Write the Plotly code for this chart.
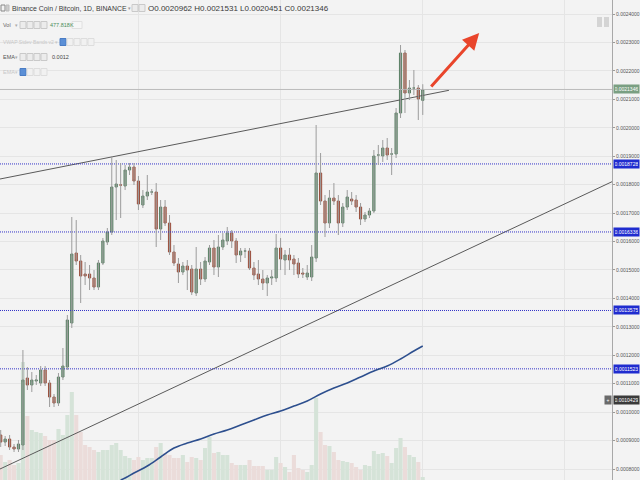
import plotly.graph_objects as go

# ---------------- data ----------------
day_index = list(range(96))

opens = [0.0009196, 0.0008950, 0.0009056, 0.0008775, 0.0008704, 0.0008845, 0.0011201, 0.0010955, 0.0011095, 0.0011025,
         0.0011482, 0.0011025, 0.0010533, 0.0010322, 0.0011236, 0.0011587, 0.0013135, 0.0015596, 0.0015315, 0.0014858,
         0.0014858, 0.0014717, 0.0014400, 0.0015244, 0.0015983, 0.0016334, 0.0017917, 0.0017987, 0.0017952, 0.0018514,
         0.0018620, 0.0018128, 0.0017284, 0.0017600, 0.0017741, 0.0017741, 0.0016440, 0.0017213, 0.0016651, 0.0015631,
         0.0015209, 0.0014928, 0.0015139, 0.0015033, 0.0014190, 0.0015033, 0.0014682, 0.0015280, 0.0015772, 0.0015104,
         0.0015807, 0.0016018, 0.0016299, 0.0016018, 0.0015526, 0.0015666, 0.0015666, 0.0015069, 0.0014858, 0.0014682,
         0.0014541, 0.0014717, 0.0014717, 0.0015772, 0.0015350, 0.0015526, 0.0015385, 0.0015244, 0.0014893, 0.0014752,
         0.0014752, 0.0015420, 0.0018409, 0.0017424, 0.0016651, 0.0017530, 0.0017424, 0.0016651, 0.0017213, 0.0017495,
         0.0017460, 0.0017213, 0.0016791, 0.0016932, 0.0017073, 0.0019042, 0.0019007, 0.0019288, 0.0019077, 0.0019077,
         0.0020519, 0.0022628, 0.0021222, 0.0021398, 0.0021398, 0.0020962]

highs = [0.0009372, 0.0009161, 0.0009196, 0.0008880, 0.0009021, 0.0012185, 0.0011587, 0.0011412, 0.0011306, 0.0011623,
         0.0011623, 0.0011130, 0.0010638, 0.0011376, 0.0012256, 0.0013416, 0.0016862, 0.0016756, 0.0015526, 0.0015280,
         0.0015174, 0.0014998, 0.0015350, 0.0016123, 0.0016475, 0.0019007, 0.0018866, 0.0018761, 0.0018690, 0.0018761,
         0.0018761, 0.0018303, 0.0017811, 0.0018339, 0.0017846, 0.0018057, 0.0017460, 0.0017460, 0.0016932, 0.0015877,
         0.0015420, 0.0015280, 0.0015350, 0.0015174, 0.0015807, 0.0015280, 0.0015455, 0.0015877, 0.0016053, 0.0016229,
         0.0016299, 0.0016510, 0.0016405, 0.0016123, 0.0015772, 0.0015772, 0.0015772, 0.0015280, 0.0015350, 0.0014998,
         0.0014822, 0.0014998, 0.0016264, 0.0016123, 0.0015701, 0.0015772, 0.0015526, 0.0015420, 0.0015069, 0.0015174,
         0.0015877, 0.0020097, 0.0019112, 0.0017635, 0.0017811, 0.0018057, 0.0017635, 0.0017354, 0.0017811, 0.0017741,
         0.0017635, 0.0017354, 0.0017038, 0.0017178, 0.0019218, 0.0019393, 0.0019569, 0.0019640, 0.0019288, 0.0020694,
         0.0022910, 0.0022734, 0.0021679, 0.0022031, 0.0021503, 0.0021531]

lows = [0.0008775, 0.0008810, 0.0008669, 0.0008599, 0.0008599, 0.0008669, 0.0010779, 0.0010708, 0.0010955, 0.0010919,
        0.0010919, 0.0010181, 0.0010181, 0.0010216, 0.0011130, 0.0011482, 0.0012959, 0.0015174, 0.0013838, 0.0014471,
        0.0014295, 0.0014295, 0.0014295, 0.0015174, 0.0015877, 0.0016229, 0.0016756, 0.0016827, 0.0017811, 0.0018339,
        0.0017987, 0.0017108, 0.0017178, 0.0017460, 0.0017635, 0.0015807, 0.0016053, 0.0016545, 0.0015526, 0.0015139,
        0.0014541, 0.0014822, 0.0014295, 0.0014119, 0.0014084, 0.0014471, 0.0014576, 0.0015174, 0.0014822, 0.0014752,
        0.0015701, 0.0015877, 0.0015772, 0.0015244, 0.0015280, 0.0015420, 0.0014998, 0.0014647, 0.0014471, 0.0014295,
        0.0014084, 0.0014471, 0.0014576, 0.0014998, 0.0014822, 0.0014998, 0.0014822, 0.0014717, 0.0014717, 0.0014647,
        0.0014611, 0.0015280, 0.0017284, 0.0016159, 0.0016475, 0.0017284, 0.0016229, 0.0016510, 0.0017108, 0.0017284,
        0.0017038, 0.0016580, 0.0016686, 0.0016827, 0.0017002, 0.0018690, 0.0018796, 0.0018866, 0.0018339, 0.0018936,
        0.0020343, 0.0020519, 0.0020976, 0.0021152, 0.0020273, 0.0020451]

closes = [0.0008950, 0.0009056, 0.0008775, 0.0008704, 0.0008880, 0.0011130, 0.0010955, 0.0011130, 0.0011130, 0.0011482,
          0.0011025, 0.0010533, 0.0010322, 0.0011236, 0.0011623, 0.0013240, 0.0015561, 0.0015315, 0.0014787, 0.0014787,
          0.0014717, 0.0014400, 0.0015244, 0.0016018, 0.0016334, 0.0017917, 0.0018022, 0.0017987, 0.0018514, 0.0018620,
          0.0018128, 0.0017319, 0.0017600, 0.0017741, 0.0017741, 0.0016440, 0.0017213, 0.0016651, 0.0015631, 0.0015244,
          0.0014928, 0.0015139, 0.0014998, 0.0014225, 0.0015033, 0.0014682, 0.0015315, 0.0015772, 0.0015104, 0.0015807,
          0.0016053, 0.0016299, 0.0016018, 0.0015526, 0.0015666, 0.0015666, 0.0015069, 0.0014822, 0.0014682, 0.0014541,
          0.0014717, 0.0014752, 0.0015772, 0.0015385, 0.0015526, 0.0015350, 0.0015209, 0.0014858, 0.0014858, 0.0014893,
          0.0015455, 0.0018409, 0.0017424, 0.0016651, 0.0017530, 0.0017424, 0.0016651, 0.0017213, 0.0017565, 0.0017424,
          0.0017213, 0.0016791, 0.0016932, 0.0017073, 0.0019007, 0.0019042, 0.0019288, 0.0019042, 0.0019077, 0.0020519,
          0.0022628, 0.0021222, 0.0021398, 0.0021398, 0.0021011, 0.0021346]

volumes_k = [4000, 2880, 3200, 2400, 2720, 18880, 10240, 8000, 7680, 7520,
             7040, 6400, 6400, 8160, 7200, 10400, 14080, 10400, 7680, 5600,
             5280, 4800, 4480, 4800, 4800, 5600, 5920, 4800, 3840, 3520,
             3200, 3680, 3200, 3520, 3520, 5280, 5920, 4320, 4000, 3520,
             3520, 4000, 2880, 3680, 3520, 3200, 5120, 6880, 4320, 4480,
             4000, 4000, 2720, 2400, 2400, 2400, 3200, 2240, 2240, 2240,
             1600, 1600, 3680, 2720, 2080, 1280, 4000, 1920, 1600, 1280,
             2400, 13120, 7680, 5600, 5440, 4480, 3200, 3040, 2880, 2720,
             2080, 1600, 2400, 2240, 4640, 4160, 4320, 3840, 2720, 5120,
             6720, 5280, 4000, 3680, 2880, 477.818]

ema_index = [27, 28, 30, 33, 36, 39, 42, 45, 48, 51, 54, 57, 60, 63, 66, 69, 72, 75, 78, 81, 84, 87, 90, 93, 95]
ema_values = [0.0007614, 0.0007685, 0.0007860, 0.0008106, 0.0008423, 0.0008739, 0.0008915, 0.0009056, 0.0009232,
              0.0009372, 0.0009548, 0.0009724, 0.0009900, 0.0010040, 0.0010216, 0.0010392, 0.0010638, 0.0010849,
              0.0011025, 0.0011236, 0.0011447, 0.0011623, 0.0011869, 0.0012150, 0.0012326]

levels = [0.0018728, 0.0016336, 0.0013575, 0.0011523]
last_price = 0.0021346
ema2_price = 0.0010429

upper_trend_x = [-0.16, 100.9]
upper_trend_y = [0.0018198, 0.0021317]
lower_trend_x = [-0.16, 137.6]
lower_trend_y = [0.0008001, 0.0018103]

arrow_x = [96.6, 107.7]
arrow_y = [0.0021398, 0.0023332]

x_range = [-0.16, 137.6]
price_range = [0.00076146, 0.00244923]
volume_range = [0, 76800]

# ---------------- styling ----------------
BG = '#f3f3f3'
GRID = '#e5e5e5'
UP_FILL, UP_LINE = '#7fa589', '#5a7f64'
DN_FILL, DN_LINE = '#c2735f', '#99503e'
FONT = 'Liberation Sans, Arial, sans-serif'
PLOT_W, PLOT_H = 612.0, 480.0

fig = go.Figure()

# volume (base axis, drawn behind)
vol_colors = ['#d5e3d8' if c >= o else '#ebdcda' for o, c in zip(opens, closes)]
fig.add_trace(go.Bar(x=day_index, y=volumes_k, marker=dict(color=vol_colors, line=dict(width=0)),
                     yaxis='y', hoverinfo='skip'))

# trend lines
fig.add_trace(go.Scatter(x=upper_trend_x, y=upper_trend_y, mode='lines', yaxis='y2',
                         line=dict(color='#5a5a5a', width=1)))
fig.add_trace(go.Scatter(x=lower_trend_x, y=lower_trend_y, mode='lines', yaxis='y2',
                         line=dict(color='#5a5a5a', width=1)))

# horizontal levels
for lv in levels:
    fig.add_trace(go.Scatter(x=x_range, y=[lv, lv], mode='lines', yaxis='y2',
                             line=dict(color='#3333c8', width=1, dash='1px,1px')))
fig.add_trace(go.Scatter(x=x_range, y=[last_price, last_price], mode='lines', yaxis='y2',
                         line=dict(color='#bcbcbc', width=1)))

# EMA
fig.add_trace(go.Scatter(x=ema_index, y=ema_values, mode='lines', yaxis='y2',
                         line=dict(color='#2d4f8e', width=1.6, shape='spline')))

# wicks
wx, wy = [], []
for i, h, l in zip(day_index, highs, lows):
    wx += [i, i, None]
    wy += [l, h, None]
fig.add_trace(go.Scatter(x=wx, y=wy, mode='lines', yaxis='y2', line=dict(color='#9c9c9c', width=1),
                         hoverinfo='skip'))

# candle bodies
body_hi = [max(o, c) for o, c in zip(opens, closes)]
body_lo = [min(o, c) for o, c in zip(opens, closes)]
fig.add_trace(go.Candlestick(x=day_index, open=opens, high=body_hi, low=body_lo, close=closes, yaxis='y2',
                             increasing=dict(fillcolor=UP_FILL, line=dict(color=UP_LINE, width=1)),
                             decreasing=dict(fillcolor=DN_FILL, line=dict(color=DN_LINE, width=1)),
                             whiskerwidth=0))

annotations = []
shapes = []

def px_x(p):
    return p / PLOT_W

def px_y(p):
    return 1 - p / PLOT_H

# price labels on axis
def price_label(v, color):
    annotations.append(dict(x=1, xref='paper', xanchor='left', xshift=1, y=v, yref='y2', yanchor='middle',
                            text=f'{v:.7f}', showarrow=False, bgcolor=color,
                            font=dict(color='white', size=5, family=FONT), borderpad=1, width=23))

for lv in levels:
    price_label(lv, '#1f2ccf')
price_label(last_price, '#7a9f82')
price_label(ema2_price, '#3a3a3a')
annotations.append(dict(x=1, xref='paper', xanchor='right', xshift=0, y=ema2_price, yref='y2', yanchor='middle',
                        text='+', showarrow=False, bgcolor='#6a6a6a',
                        font=dict(color='white', size=5, family=FONT), borderpad=1, width=4))

# arrow
annotations.append(dict(x=arrow_x[1], y=arrow_y[1], xref='x', yref='y2', ax=arrow_x[0], ay=arrow_y[0],
                        axref='x', ayref='y2', text='', showarrow=True, arrowhead=2, arrowsize=1.1,
                        arrowwidth=3, arrowcolor='#e9452b'))

# legend text rows (top-left)
def text(xp, yp, s, color='#3a3a3a', size=7):
    annotations.append(dict(x=px_x(xp), y=px_y(yp), xref='paper', yref='paper', xanchor='left',
                            yanchor='middle', text=s, showarrow=False,
                            font=dict(color=color, size=size, family=FONT)))

def box(xp, yp, w=6, h=7, fill='#ececec', line='#c9c9c9'):
    shapes.append(dict(type='rect', xref='paper', yref='paper', x0=px_x(xp), x1=px_x(xp + w),
                       y0=px_y(yp + h / 2), y1=px_y(yp - h / 2), fillcolor=fill,
                       line=dict(color=line, width=1)))

# row 1
box(1, 8, w=4, h=6, fill=BG, line='#888888')
box(6, 8, w=3, h=6, fill='#cccccc', line='#bbbbbb')
text(10, 8, 'Binance Coin / Bitcoin, 1D, BINANCE', size=6.9)
text(126, 8, '▾', color='#999999', size=5)
box(132, 8)
box(139, 8)
text(146, 8, 'O0.0020962 H0.0021531 L0.0020451 C0.0021346', size=8)

# row 2
text(1, 25, 'Vol', color='#666666', size=5.5)
text(13, 25, '▾', color='#aaaaaa', size=5)
for k in range(4):
    box(20 + 7 * k, 25)
text(48, 25, '477.818K', color='#4c8f5a', size=5.5)
box(72, 25, w=10, fill='#f6f6f6', line='#e0e0e0')

# row 3 (hidden indicator)
text(1, 42, 'VWAP Stdev Bands v2 ▾', color='#c8c8c8', size=5)
box(60, 42, fill='#5b8fd6', line='#4a7cc4')
for k in range(1, 5):
    box(60 + 7 * k, 42, fill='#f1f1f1', line='#dddddd')

# row 4
text(1, 57, 'EMA', color='#555555', size=5.5)
text(13, 57, '▾', color='#aaaaaa', size=5)
for k in range(4):
    box(20 + 7 * k, 57)
text(50, 57, '0.0012', color='#444444', size=5.5)

# row 5 (hidden EMA)
text(1, 72, 'EMA', color='#c8c8c8', size=5.5)
text(13, 72, '▾', color='#cccccc', size=5)
box(20, 72, fill='#5b8fd6', line='#4a7cc4')
for k in range(1, 4):
    box(20 + 7 * k, 72, fill='#f1f1f1', line='#dddddd')

# top right buttons
shapes.append(dict(type='rect', xref='paper', yref='paper', x0=px_x(597), x1=px_x(602),
                   y0=px_y(27), y1=px_y(17), fillcolor='#d4d4d4', line=dict(width=0)))
shapes.append(dict(type='rect', xref='paper', yref='paper', x0=px_x(604), x1=px_x(609),
                   y0=px_y(27), y1=px_y(17), fillcolor='#d4d4d4', line=dict(width=0)))

fig.update_layout(
    width=640, height=480,
    margin=dict(l=0, r=28, t=0, b=0, pad=0),
    paper_bgcolor=BG, plot_bgcolor=BG,
    showlegend=False,
    bargap=0.08,
    font=dict(family=FONT),
    xaxis=dict(range=x_range, showgrid=True, gridcolor=GRID, tickvals=[31, 63, 95, 127],
               showticklabels=False, ticks='', zeroline=False, showline=False,
               rangeslider=dict(visible=False)),
    yaxis=dict(range=volume_range, visible=False, showgrid=False, zeroline=False),
    yaxis2=dict(overlaying='y', side='right', anchor='x', range=price_range, dtick=0.0001, tick0=0,
                tickformat='.7f', showgrid=True, gridcolor=GRID, ticks='outside', ticklen=2,
                tickcolor='#9a9a9a', showline=True, linecolor='#a8a8a8', linewidth=1,
                tickfont=dict(size=5, color='#555555', family=FONT), zeroline=False, automargin=False),
    annotations=annotations,
    shapes=shapes,
)

fig.write_html('out.html')
